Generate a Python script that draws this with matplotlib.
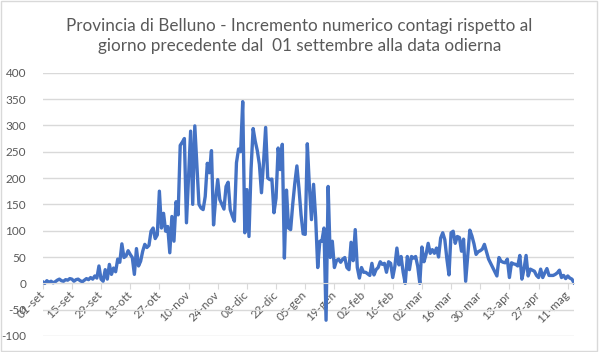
import pandas as pd
import matplotlib
matplotlib.use("Agg")
import matplotlib.pyplot as plt
from matplotlib.patches import Rectangle

# daily increase in cases, from 01-set (one value per day)
increments = [
    3, 0, 5, 2, 4, 1, 3, 6, 8, 5,
    4, 7, 6, 9, 8, 4, 7, 8, 5, 3,
    6, 9, 7, 11, 8, 14, 10, 33, 8, 4,
    26, 8, 36, 17, 29, 22, 46, 40, 75, 49,
    52, 62, 55, 49, 17, 66, 33, 42, 61, 74,
    68, 72, 99, 105, 85, 92, 175, 105, 133, 99,
    108, 58, 127, 80, 155, 130, 262, 268, 275, 115,
    200, 289, 150, 299, 225, 150, 143, 140, 165, 228,
    210, 252, 111, 160, 197, 159, 150, 141, 184, 192,
    140, 128, 118, 229, 255, 250, 345, 96, 178, 89,
    217, 294, 270, 252, 226, 172, 230, 296, 200, 197,
    198, 134, 162, 257, 216, 264, 48, 177, 105, 102,
    150, 190, 223, 180, 130, 94, 93, 265, 184, 121,
    188, 125, 30, 80, 80, 105, -70, 184, 49, 80,
    30, 43, 46, 40, 46, 49, 30, 26, 78, 43,
    102, 30, 10, 30, 21, 21, 18, 15, 38, 16,
    26, 30, 41, 36, 38, 21, 41, 38, 11, 32,
    67, 35, 51, 21, 0, 51, 26, 51, 48, 51,
    32, 0, 69, 41, 55, 76, 57, 64, 57, 67,
    50, 86, 96, 83, 46, 16, 96, 99, 76, 89,
    87, 61, 84, 4, 52, 101, 90, 75, 55, 60,
    62, 65, 74, 60, 46, 38, 30, 22, 14, 49,
    42, 40, 39, 46, 11, 39, 37, 36, 33, 53,
    8, 27, 53, 14, 27, 25, 23, 15, 11, 27,
    11, 20, 28, 15, 15, 15, 17, 20, 25, 11,
    15, 9, 14, 10, 8, 1,
]
dates = pd.date_range("2020-09-01", periods=len(increments), freq="D")

tick_labels = ["01-set", "15-set", "29-set", "13-ott", "27-ott", "10-nov",
               "24-nov", "08-dic", "22-dic", "05-gen", "19-gen", "02-feb",
               "16-feb", "02-mar", "16-mar", "30-mar", "13-apr", "27-apr",
               "11-mag"]
y_ticks = [-100, -50, 0, 50, 100, 150, 200, 250, 300, 350, 400]

title = ("Provincia di Belluno - Incremento numerico contagi rispetto al\n"
         "giorno precedente dal  01 settembre alla data odierna")

plt.rcParams['font.family'] = ['Lato', 'DejaVu Sans']
text_gray = '#595959'
grid_gray = '#d9d9d9'

fig = plt.figure(figsize=(5.99, 3.52), dpi=100)
ax = fig.add_axes([42.7 / 599, 1 - 336 / 352, (574 - 42.7) / 599, (336 - 72.7) / 352])

# spine position first: moving it resets the ticks
for side in ['top', 'right', 'left']:
    ax.spines[side].set_visible(False)
ax.spines['bottom'].set_position(('data', 0))
ax.spines['bottom'].set_color(grid_gray)

x = list(range(len(increments)))
ax.plot(x, increments, color='#4472C4', lw=2.4, solid_joinstyle='round')

ax.set_xlim(0, len(increments) - 1)
ax.set_ylim(-100, 400)
ax.set_yticks(y_ticks)
ax.set_yticklabels([str(v) for v in y_ticks])
ax.yaxis.grid(True, color=grid_gray, lw=1)
ax.set_axisbelow(True)
ax.tick_params(axis='y', length=0, labelsize=8.5, labelcolor=text_gray, pad=12)

tick_pos = [x[i] for i in range(0, len(dates), 14)][:len(tick_labels)]
ax.set_xticks(tick_pos)
ax.set_xticklabels(tick_labels, rotation=45, ha='right', va='center',
                   rotation_mode='anchor')
ax.tick_params(axis='x', direction='out', length=4, color=grid_gray,
               labelsize=8.5, labelcolor=text_gray, pad=3)

fig.text(0.5, 0.898, title, ha='center', va='center', fontsize=12.3,
         color=text_gray, linespacing=1.3)

fig.add_artist(Rectangle((0.002, 0.003), 0.995, 0.994, transform=fig.transFigure,
                         fill=False, edgecolor=grid_gray, lw=1))

fig.savefig("out.png", dpi=100)
